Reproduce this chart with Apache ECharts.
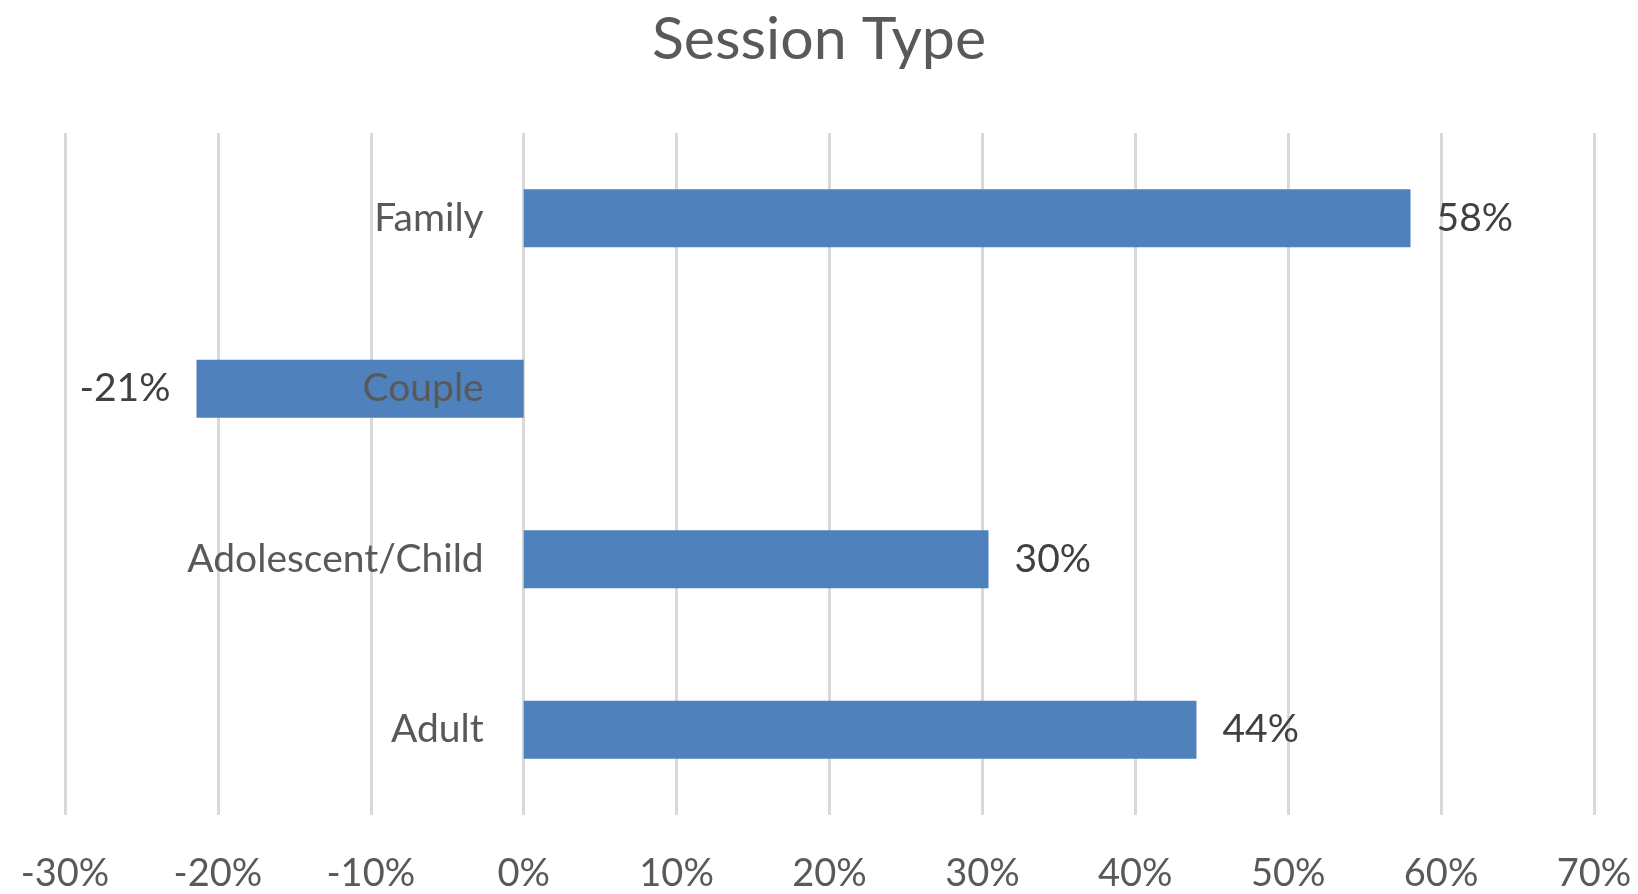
<!DOCTYPE html>
<html>
<head>
<meta charset="utf-8">
<script src="https://cdn.jsdelivr.net/npm/echarts@6/dist/echarts.min.js"></script>
<style>
html,body{margin:0;padding:0;background:#fff;}
#chart{width:1638px;height:894px;}
</style>
</head>
<body>
<div id="chart"></div>
<script>
var categories = ["Adult", "Adolescent/Child", "Couple", "Family"];
var values = [0.44, 0.304, -0.214, 0.58];
var xTicks = [-0.3, 0.7, 0.1];

var chart = echarts.init(document.getElementById('chart'));
var font = 'Lato, "Open Sans", sans-serif';
var gridLeft = 65, gridRight = 44;
var plotW = 1638 - gridLeft - gridRight;
var zeroOffset = plotW * (0 - xTicks[0]) / (xTicks[1] - xTicks[0]);
chart.setOption({
  backgroundColor: '#fff',
  animation: false,
  title: {
    text: 'Session Type',
    left: 'center',
    top: 5,
    textStyle: {fontFamily: font, fontSize: 59, fontWeight: 'normal', color: '#595959'}
  },
  grid: {left: gridLeft, right: gridRight, top: 133, bottom: 79, containLabel: false, outerBoundsMode: 'none'},
  xAxis: {
    type: 'value',
    min: xTicks[0], max: xTicks[1], interval: xTicks[2],
    axisLine: {show: false},
    axisTick: {show: false},
    splitLine: {show: true, lineStyle: {color: '#d9d9d9', width: 3}},
    axisLabel: {
      fontFamily: font, fontSize: 38, color: '#595959', margin: 40,
      formatter: function (v) { return Math.round(v * 100) + '%'; }
    }
  },
  yAxis: {
    type: 'category',
    data: categories,
    offset: -zeroOffset,
    z: 5,
    axisLine: {show: false},
    axisTick: {show: false},
    axisLabel: {fontFamily: font, fontSize: 39, color: '#595959', margin: 40}
  },
  series: [{
    type: 'bar',
    data: values.map(function (v) {
      return {value: v, label: {position: v < 0 ? 'left' : 'right'}};
    }),
    barWidth: '34%',
    itemStyle: {color: '#4f81bd'},
    label: {
      show: true,
      distance: 26,
      fontFamily: font, fontSize: 39, color: '#404040',
      formatter: function (p) { return Math.round(p.value * 100) + '%'; }
    },
    z: 1
  }]
});
</script>
</body>
</html>
